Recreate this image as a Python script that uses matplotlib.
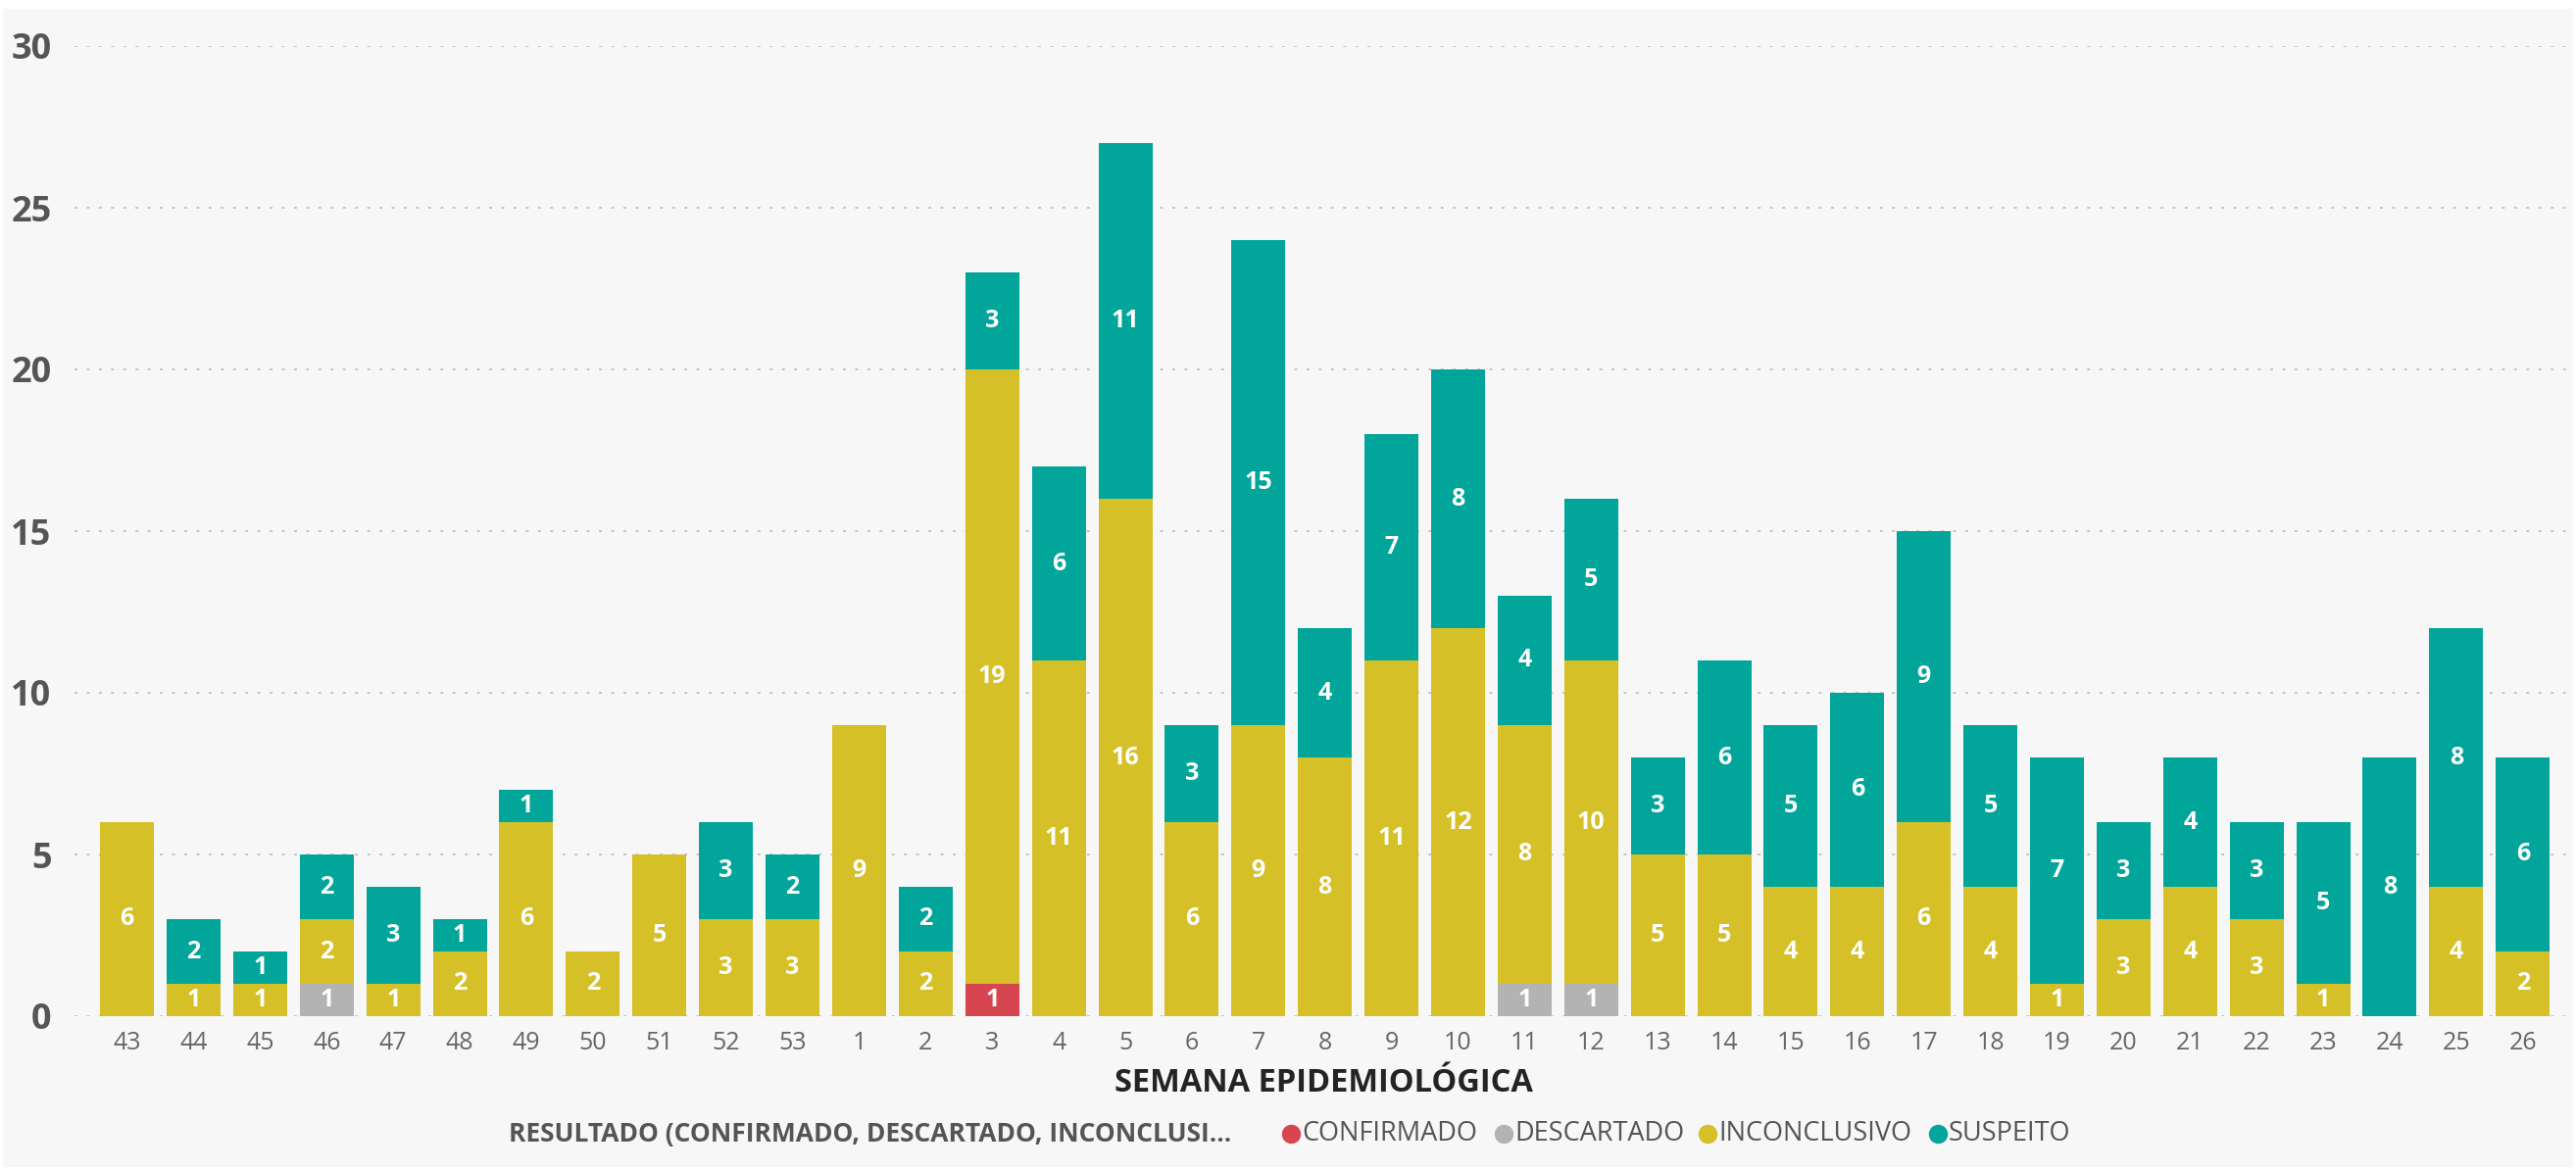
import numpy as np
import matplotlib.pyplot as plt
from matplotlib.patches import Rectangle
from matplotlib.lines import Line2D

plt.rcParams['font.family'] = ['Open Sans', 'DejaVu Sans']

# dados por semana epidemiologica
semanas = ['43', '44', '45', '46', '47', '48', '49', '50', '51', '52', '53',
           '1', '2', '3', '4', '5', '6', '7', '8', '9', '10', '11', '12', '13',
           '14', '15', '16', '17', '18', '19', '20', '21', '22', '23', '24', '25', '26']
confirmado = [0, 0, 0, 0, 0, 0, 0, 0, 0, 0, 0,
              0, 0, 1, 0, 0, 0, 0, 0, 0, 0, 0, 0, 0,
              0, 0, 0, 0, 0, 0, 0, 0, 0, 0, 0, 0, 0]
descartado = [0, 0, 0, 1, 0, 0, 0, 0, 0, 0, 0,
              0, 0, 0, 0, 0, 0, 0, 0, 0, 0, 1, 1, 0,
              0, 0, 0, 0, 0, 0, 0, 0, 0, 0, 0, 0, 0]
inconclusivo = [6, 1, 1, 2, 1, 2, 6, 2, 5, 3, 3,
                9, 2, 19, 11, 16, 6, 9, 8, 11, 12, 8, 10, 5,
                5, 4, 4, 6, 4, 1, 3, 4, 3, 1, 0, 4, 2]
suspeito = [0, 2, 1, 2, 3, 1, 1, 0, 0, 3, 2,
            0, 2, 3, 6, 11, 3, 15, 4, 7, 8, 4, 5, 3,
            6, 5, 6, 9, 5, 7, 3, 4, 3, 5, 8, 8, 6]

series = [('CONFIRMADO', confirmado, '#D64550'),
          ('DESCARTADO', descartado, '#B3B3B3'),
          ('INCONCLUSIVO', inconclusivo, '#D5C027'),
          ('SUSPEITO', suspeito, '#01A59A')]

W, H = 2628, 1194
fig = plt.figure(figsize=(W / 100, H / 100), dpi=100, facecolor='white')
fig.patches.append(Rectangle((3 / W, 3 / H), (W - 6) / W, (H - 12) / H,
                             transform=fig.transFigure, facecolor='#F7F7F7',
                             edgecolor='none', zorder=-10))

ax = fig.add_axes([76 / W, 157 / H, (2624 - 76) / W, (1037 - 47) / H])
ax.set_facecolor('none')

x = np.arange(len(semanas))
bottom = np.zeros(len(semanas))
for nome, vals, cor in series:
    vals = np.array(vals)
    bars = ax.bar(x, vals, 0.81, bottom=bottom, color=cor, zorder=2)
    labels = [str(v) if v > 0 else '' for v in vals]
    ax.bar_label(bars, labels=labels, label_type='center', color='white',
                 fontsize=18, fontweight='bold')
    bottom += vals

ax.set_ylim(0, 30)
ax.set_xlim(-0.79, len(semanas) - 0.26)
ax.set_yticks(range(0, 31, 5))
ax.set_xticks(x)
ax.set_xticklabels(semanas)
ax.grid(axis='y', color='#C4C4C4', linewidth=1.4, linestyle=(0, (1.5, 4.9)), zorder=0)
ax.tick_params(axis='y', length=0, pad=17, labelsize=26, labelcolor='#555555')
ax.tick_params(axis='x', length=0, pad=11, labelsize=18, labelcolor='#666666')
for lab in ax.get_yticklabels():
    lab.set_fontweight('bold')
for s in ax.spines.values():
    s.set_visible(False)

fig.text(1350 / W, 1 - 1106 / H, 'SEMANA EPIDEMIOLÓGICA', ha='center', va='center',
         fontsize=23.5, fontweight='bold', color='#252423')

# legenda na linha de baixo
ly = 1 - 1157 / H
fig.text(519 / W, ly, 'RESULTADO (CONFIRMADO, DESCARTADO, INCONCLUSI...', ha='left',
         va='center', fontsize=19, fontweight='bold', color='#555555')
pos_circulo = [1317, 1534, 1742, 1977]
for (nome, vals, cor), px in zip(series, pos_circulo):
    fig.add_artist(Line2D([px / W], [ly], marker='o', markersize=13, color=cor,
                          linestyle='none', transform=fig.transFigure))
    fig.text((px + 11) / W, ly, nome, ha='left', va='center', fontsize=19.5,
             color='#555555')

fig.savefig('out.png', dpi=100, facecolor=fig.get_facecolor())
